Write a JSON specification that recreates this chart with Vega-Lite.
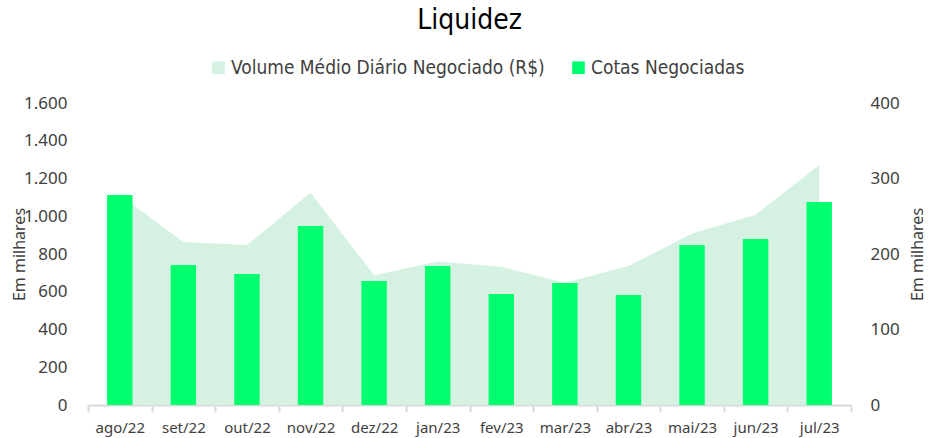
{
  "$schema": "https://vega.github.io/schema/vega-lite/v6.json",
  "width": 763,
  "height": 302,
  "autosize": "none",
  "padding": {"left": 88, "top": 103, "right": 77, "bottom": 33},
  "background": "white",
  "title": {"text": "Liquidez", "font": "Liberation Sans Narrow, DejaVu Sans Condensed, Noto Sans", "fontSize": 28, "fontWeight": "normal", "color": "#000000", "anchor": "middle", "offset": 23},
  "config": {"view": {"stroke": null}, "font": "Noto Sans"},
  "data": {
    "values": [
      {"mes": "ago/22", "cotas": 1113, "volume": 278},
      {"mes": "set/22", "cotas": 742, "volume": 216},
      {"mes": "out/22", "cotas": 694, "volume": 212},
      {"mes": "nov/22", "cotas": 948, "volume": 281},
      {"mes": "dez/22", "cotas": 657, "volume": 172},
      {"mes": "jan/23", "cotas": 736, "volume": 190},
      {"mes": "fev/23", "cotas": 588, "volume": 183},
      {"mes": "mar/23", "cotas": 646, "volume": 162},
      {"mes": "abr/23", "cotas": 583, "volume": 184},
      {"mes": "mai/23", "cotas": 848, "volume": 227},
      {"mes": "jun/23", "cotas": 880, "volume": 252},
      {"mes": "jul/23", "cotas": 1075, "volume": 318}
    ]
  },
  "encoding": {
    "x": {
      "field": "mes", "type": "ordinal", "sort": null, "title": null,
      "scale": {"paddingInner": 0, "paddingOuter": 0},
      "axis": {"labelAngle": 0, "labelFontSize": 15, "labelColor": "#404040", "labelPadding": 8, "tickBand": "extent", "domainColor": "#d9d9d9", "domainWidth": 2, "tickColor": "#d9d9d9", "tickWidth": 2, "tickSize": 7, "grid": false}
    }
  },
  "layer": [
    {
      "mark": {"type": "area", "opacity": 1},
      "encoding": {
        "x": {"field": "mes", "type": "ordinal", "sort": null, "bandPosition": 0.5},
        "y": {"field": "volume", "type": "quantitative", "scale": {"domain": [0, 400]},
          "axis": {"orient": "right", "title": "Em milhares", "titleAngle": 270, "titleFontSize": 16, "titleFontWeight": "normal", "titleColor": "#404040", "titlePadding": 26, "labelFontSize": 17, "labelColor": "#404040", "labelPadding": 19, "tickCount": 4, "domain": false, "ticks": false, "grid": false}},
        "color": {"datum": "Volume Médio Diário Negociado (R$)", "type": "nominal",
          "scale": {"domain": ["Volume Médio Diário Negociado (R$)", "Cotas Negociadas"], "range": ["#d5f1e1", "#00ff6e"]},
          "legend": {"orient": "none", "legendX": 121, "legendY": -45, "direction": "horizontal", "title": null, "symbolType": "square", "symbolSize": 160, "symbolStrokeWidth": 0, "labelFont": "Liberation Sans Narrow, DejaVu Sans Condensed, Noto Sans", "labelFontSize": 19, "labelColor": "#404040", "labelLimit": 0, "columnPadding": 24, "labelOffset": 3}}
      }
    },
    {
      "mark": {"type": "bar", "width": {"band": 0.4}},
      "encoding": {
        "y": {"field": "cotas", "type": "quantitative", "scale": {"domain": [0, 1600]},
          "axis": {"orient": "left", "title": "Em milhares", "titleFontSize": 16, "titleFontWeight": "normal", "titleColor": "#404040", "titlePadding": -4, "labelFontSize": 17, "labelColor": "#404040", "labelPadding": 21, "tickCount": 8, "domain": false, "ticks": false, "grid": false, "labelExpr": "replace(format(datum.value, ','), ',', '.')"}},
        "color": {"datum": "Cotas Negociadas", "type": "nominal"}
      }
    }
  ],
  "resolve": {"scale": {"y": "independent"}}
}
